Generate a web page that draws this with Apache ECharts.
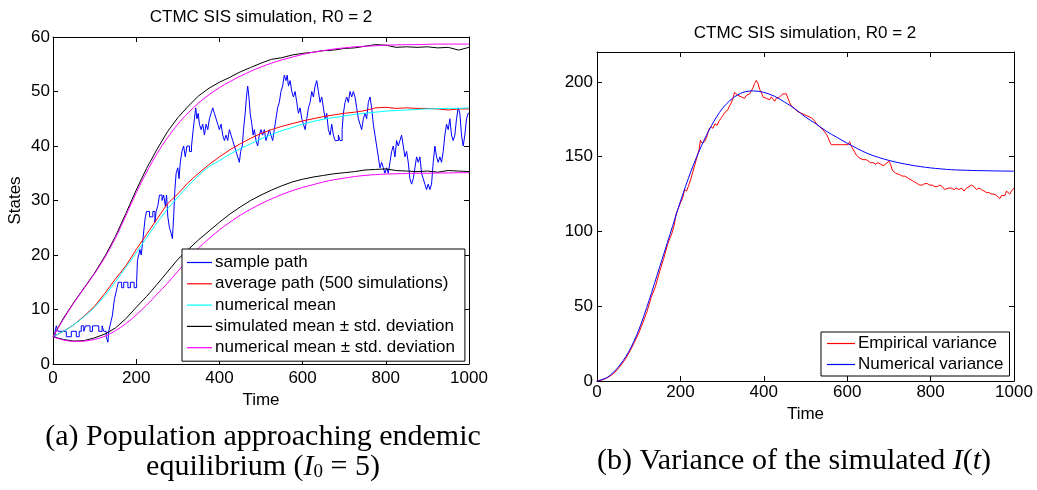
<!DOCTYPE html>
<html>
<head>
<meta charset="utf-8">
<script src="https://cdn.jsdelivr.net/npm/echarts@6/dist/echarts.min.js"></script>
<style>
html,body{margin:0;padding:0;background:#fff;}
#chart{width:1037px;height:490px;}
</style>
</head>
<body>
<div id="chart"></div>
<script>
// ---------- DATA ----------
const plotTitle = 'CTMC SIS simulation, R0 = 2';
const legendLeft = ['sample path','average path (500 simulations)','numerical mean','simulated mean \u00b1 std. deviation','numerical mean \u00b1 std. deviation'];
const legendRight = ['Empirical variance','Numerical variance'];
const colorsLeft = ['#0000ff','#ff0000','#00ffff','#000000','#ff00ff'];
const colorsRight = ['#ff0000','#0000ff'];

// common time grid for the smooth curves of panel (a)
const tGrid = [0,25,50,75,100,125,150,175,200,225,250,275,300,325,350,375,400,425,450,475,500,525,550,575,600,625,650,675,700,725,750,775,800,825,850,875,900,925,950,975,1000];

const avgPath = [5,6.0,7.2,8.8,10.6,13.0,15.6,18.0,21.0,23.8,26.6,29.4,31.2,33.3,35.0,36.6,38.0,39.3,40.4,41.4,42.3,43.0,43.6,44.1,44.6,45.0,45.4,45.7,46.0,46.2,46.5,47.0,47.1,46.9,47.0,46.9,46.9,46.8,46.6,46.8,46.8];
const numMean = [5,6.0,7.2,8.7,10.4,12.6,15.1,17.7,20.4,23.2,25.9,28.4,30.6,32.7,34.6,36.2,37.3,38.5,39.5,40.4,41.3,42.1,42.8,43.4,44.0,44.5,44.9,45.2,45.5,45.8,46.0,46.2,46.4,46.5,46.6,46.7,46.8,46.85,46.9,46.9,47.0];
const simUpper = [5,8.4,11.3,14.0,16.7,19.8,23.4,27.6,31.9,35.9,39.4,42.6,45.2,47.3,49.2,50.6,51.7,52.6,53.6,54.4,55.2,55.9,56.2,56.7,57.0,57.2,57.5,57.6,57.9,58.0,58.3,58.6,58.5,58.1,58.2,58.1,58.2,58.0,58.1,57.6,58.1];
const simLower = [5,4.5,4.2,4.3,4.8,5.5,6.6,8.3,10.4,12.4,14.6,16.9,19.2,21.0,22.8,24.4,26.0,27.5,28.8,30.0,31.0,31.9,32.7,33.4,33.9,34.3,34.6,34.9,35.1,35.3,35.6,35.7,35.8,35.5,35.4,35.3,35.4,35.2,35.5,35.4,35.3];
const numUpper = [5,8.2,11.2,13.9,16.6,19.6,23.1,27.2,31.4,35.2,38.6,41.5,44.0,46.1,47.9,49.4,50.7,51.8,52.8,53.7,54.5,55.2,55.8,56.3,56.8,57.2,57.5,57.8,58.0,58.2,58.3,58.4,58.5,58.55,58.6,58.6,58.65,58.7,58.7,58.7,58.7];
const numLower = [5,4.4,4.15,4.2,4.5,5.1,6.1,7.4,9.0,10.8,12.8,14.8,17.0,19.2,21.3,23.0,24.6,26.0,27.3,28.4,29.4,30.3,31.1,31.8,32.4,32.9,33.4,33.8,34.1,34.4,34.6,34.75,34.85,34.9,34.95,35.0,35.0,35.05,35.05,35.1,35.1];

// sample path: jump times and the state reached at each jump
const pathT = [0,5,8,12,32,44,56,63,68,74,78,89,95,110,118,122,128,132,134,137,140,143,146,148,151,154,157,165,170,180,186,195,201,203,206,209,212,215,219,222,225,232,240,245,248,252,256,262,266,270,273,276,280,284,287,290,293,296,300,303,306,310,314,318,322,328,333,337,340,343,346,349,352,356,360,364,368,372,376,380,384,388,392,396,400,404,408,412,416,420,424,428,432,436,440,444,448,451,455,458,462,465,468,471,474,478,481,484,488,492,496,500,504,508,512,516,520,524,528,532,536,540,544,548,552,556,560,563,566,570,574,578,582,586,590,594,598,602,606,610,614,618,622,626,630,634,638,642,646,650,654,658,662,666,670,674,678,686,690,695,698,702,706,710,714,718,722,726,730,734,738,742,746,750,754,758,762,766,770,774,778,782,786,790,794,798,802,806,810,814,818,822,826,830,834,838,842,846,850,854,858,862,866,870,874,878,882,886,890,894,898,902,906,910,914,918,922,926,930,934,938,942,946,950,954,958,962,966,970,974,978,982,986,990,994,998,1000];
const pathV = [5,6,7,6,5,6,5,6,7,6,7,6,7,6,7,6,5,4,6,7,8,9,11,12,13,14,15,14,15,14,15,14,15,19,20,21,20,22,25,27,28,27,28,26,28,29,31,30,31,29,31,27,25,24,23,27,32,35,36,34,37,39,40,38,40,39,40,43,45,47,45,46,44,43,44,42,44,43,45,46,47,46,45,44,43,44,42,41,42,41,43,42,41,40,39,38,37,39,40,43,46,49,51,49,46,44,42,43,41,40,42,43,42,43,41,42,43,42,41,43,45,47,48,50,51,53,52,53,51,52,50,49,50,48,46,47,45,44,43,45,47,48,50,49,51,52,50,48,49,47,45,46,43,42,44,42,41,42,41,43,46,48,49,48,50,49,50,49,47,45,44,43,45,46,45,48,49,47,44,42,40,38,36,37,36,35,36,35,37,39,40,38,41,40,41,42,40,38,39,37,34,33,34,36,38,37,38,35,34,33,32,33,32,33,37,40,38,37,38,37,39,42,44,43,45,42,41,42,45,47,46,42,40,42,45,46,46];

// panel (b)
const varNumT = [0,25,50,75,100,125,150,175,200,225,250,275,300,325,350,375,400,425,450,475,500,525,550,575,600,650,700,750,800,850,900,950,1000];
const varNum = [0,2.5,9,19,34,54,76,98,120,140,157,171,182,189,193,194,193,190.5,186.5,182,176.5,172,167,163,159,152,147.5,144.5,142.5,141.3,140.8,140.5,140.3];
const varEmpT = [0,10,20,30,40,50,60,70,80,90,100,110,120,130,140,150,160,170,180,185,190,200,205,210,215,220,225,230,235,240,245,248,252,258,263,268,273,278,283,288,293,298,303,308,313,318,322,326,330,334,338,342,346,350,354,358,362,366,370,374,378,382,386,390,394,398,402,406,410,414,418,422,426,430,434,438,442,446,450,454,458,462,466,470,474,478,482,486,490,494,498,502,506,510,514,518,522,526,530,534,538,542,546,550,554,558,562,566,570,574,578,582,586,590,594,598,602,606,610,614,618,622,626,630,634,638,642,646,650,656,662,668,674,680,686,692,696,700,704,708,712,716,720,726,732,738,744,750,756,762,768,774,780,786,792,798,804,810,816,822,828,834,838,842,846,850,856,862,868,874,880,886,892,898,904,910,916,922,928,934,940,946,952,958,962,966,970,974,978,982,986,990,994,1000];
const varEmp = [0,0.5,1.5,3,5,8,11.5,15.5,20.5,26,32,39,46.5,56,63,73,82,92,99,104,112,119,122,128,127,131,135,140,145,150,155,161,159,160,163,168,170,169,172,171,174,176,178,180,181,184,186,189,193,194,191,192,190,191,189,191,190,192,193,196,199,201,199,195,193,190,191,189,190,188,190,189,187,189,188,190,189,192,193,192,189,186,184,183,182,181,180,180,179,179,178,178,177,176,176,175,174,172,171,170,169,168,167,165,163,160,158,157,158,157,158,159,158,157,158,159,158,160,157,155,153,151,150,149,148,148,147,148,147,146,146,145,146,145,144,145,146,147,145,141,140,139,139,138,137,137,136,135,134,133,132,131,131,132,132,131,131,130,130,131,130,128,127,129,128,129,128,129,128,129,127,129,130,131,130,128,129,128,127,126,126,125,125,124,123,122,124,125,124,127,126,125,127,129];

// ---------- BUILD ----------
const zip = (t, v) => t.map((x, i) => [x, v[i]]);
const FONT = 'Liberation Sans';
const plainNum = v => String(v);
const baseAxis = {
  type: 'value',
  axisLine: { show: true, onZero: false, lineStyle: { color: '#000', width: 1 } },
  axisTick: { show: true, inside: true, length: 5, lineStyle: { color: '#000', width: 1 } },
  splitLine: { show: false },
  axisLabel: { color: '#000', fontSize: 17, fontFamily: FONT }
};
function ax(extra) { return Object.assign({}, JSON.parse(JSON.stringify(baseAxis)), extra); }
const noLabel = { show: false };
const lbl = (margin, extra) => Object.assign({ color: '#000', fontSize: 17, fontFamily: FONT, margin, formatter: plainNum }, extra || {});
const nameStyle = { color: '#000', fontSize: 17, fontFamily: FONT };

const chart = echarts.init(document.getElementById('chart'), null, { renderer: 'canvas' });
const lineS = (name, data, color, xi, yi, extra) => Object.assign({
  name, type: 'line', data, xAxisIndex: xi, yAxisIndex: yi,
  symbol: 'none', showSymbol: false, animation: false,
  lineStyle: { color, width: 1 }, itemStyle: { color }
}, extra || {});
const legItems = (names, cols) => names.map((n, i) => ({ name: n, icon: 'rect', itemStyle: { color: cols[i], borderWidth: 0 } }));

chart.setOption({
  animation: false,
  backgroundColor: '#fff',
  textStyle: { fontFamily: FONT },
  grid: [
    { left: 53, top: 37, width: 416, height: 327 },
    { left: 597, top: 52, width: 417, height: 329 }
  ],
  xAxis: [
    ax({ gridIndex: 0, min: 0, max: 1000, interval: 200, position: 'bottom', axisLabel: lbl(6),
         name: 'Time', nameLocation: 'middle', nameGap: 22, nameTextStyle: nameStyle }),
    ax({ gridIndex: 0, min: 0, max: 1000, interval: 200, position: 'top', axisLabel: noLabel }),
    ax({ gridIndex: 1, min: 0, max: 1000, interval: 200, position: 'bottom', axisLabel: lbl(3),
         name: 'Time', nameLocation: 'middle', nameGap: 22, nameTextStyle: nameStyle }),
    ax({ gridIndex: 1, min: 0, max: 1000, interval: 200, position: 'top', axisLabel: noLabel })
  ],
  yAxis: [
    ax({ gridIndex: 0, min: 0, max: 60, interval: 10, position: 'left', axisLabel: lbl(3),
         name: 'States', nameLocation: 'middle', nameGap: 29, nameTextStyle: nameStyle }),
    ax({ gridIndex: 0, min: 0, max: 60, interval: 10, position: 'right', axisLabel: noLabel }),
    ax({ gridIndex: 1, min: 0, max: 220, interval: 50, position: 'left', axisLabel: lbl(4, { showMaxLabel: false }) }),
    ax({ gridIndex: 1, min: 0, max: 220, interval: 50, position: 'right', axisLabel: noLabel })
  ],
  legend: [
    {
      data: legItems(legendLeft, colorsLeft), orient: 'vertical', left: 182, top: 249,
      backgroundColor: '#fff', borderColor: '#000', borderWidth: 1,
      padding: [5, 10, 5, 5], itemWidth: 25, itemHeight: 1.2, itemGap: 4.3,
      textStyle: { color: '#000', fontSize: 17, fontFamily: FONT, padding: [0, 0, 0, -2] },
      selectedMode: false
    },
    {
      data: legItems(legendRight, colorsRight), orient: 'vertical', left: 821, top: 332,
      backgroundColor: '#fff', borderColor: '#000', borderWidth: 1,
      padding: [3, 6, 3, 6], itemWidth: 28, itemHeight: 1.2, itemGap: 4,
      textStyle: { color: '#000', fontSize: 17, fontFamily: FONT, padding: [0, 0, 0, -2] },
      selectedMode: false
    }
  ],
  graphic: [
    { type: 'text', x: 261, y: 17, style: { text: plotTitle, fontSize: 17, fontFamily: FONT, fill: '#000', align: 'center', verticalAlign: 'middle' } },
    { type: 'text', x: 805, y: 33, style: { text: plotTitle, fontSize: 17, fontFamily: FONT, fill: '#000', align: 'center', verticalAlign: 'middle' } },
    { type: 'text', x: 263, y: 452, style: {
        text: '(a) Population approaching endemic\nequilibrium ({i|I}{s|0} = 5)',
        fontSize: 30, fontFamily: 'Liberation Serif', fill: '#000', align: 'center', verticalAlign: 'middle', lineHeight: 30,
        rich: {
          i: { fontSize: 30, fontFamily: 'Liberation Serif', fontStyle: 'italic', fill: '#000', lineHeight: 30 },
          s: { fontSize: 19, fontFamily: 'Liberation Serif', fill: '#000', lineHeight: 14, verticalAlign: 'bottom' }
        } } },
    { type: 'text', x: 794, y: 461, style: {
        text: '(b) Variance of the simulated {i|I}({i|t})',
        fontSize: 30, fontFamily: 'Liberation Serif', fill: '#000', align: 'center', verticalAlign: 'middle', lineHeight: 30,
        rich: { i: { fontSize: 30, fontFamily: 'Liberation Serif', fontStyle: 'italic', fill: '#000', lineHeight: 30 } } } }
  ],
  series: [
    lineS(legendLeft[0], zip(pathT, pathV), colorsLeft[0], 0, 0, { step: 'end' }),
    lineS(legendLeft[1], zip(tGrid, avgPath), colorsLeft[1], 0, 0),
    lineS(legendLeft[2], zip(tGrid, numMean), colorsLeft[2], 0, 0, { smooth: 0.3 }),
    lineS(legendLeft[3], zip(tGrid, simUpper), colorsLeft[3], 0, 0),
    lineS(legendLeft[3], zip(tGrid, simLower), colorsLeft[3], 0, 0),
    lineS(legendLeft[4], zip(tGrid, numUpper), colorsLeft[4], 0, 0, { smooth: 0.3 }),
    lineS(legendLeft[4], zip(tGrid, numLower), colorsLeft[4], 0, 0, { smooth: 0.3 }),
    lineS(legendRight[0], zip(varEmpT, varEmp), colorsRight[0], 2, 2),
    lineS(legendRight[1], zip(varNumT, varNum), colorsRight[1], 2, 2, { smooth: 0.3 })
  ]
});
</script>
</body>
</html>
